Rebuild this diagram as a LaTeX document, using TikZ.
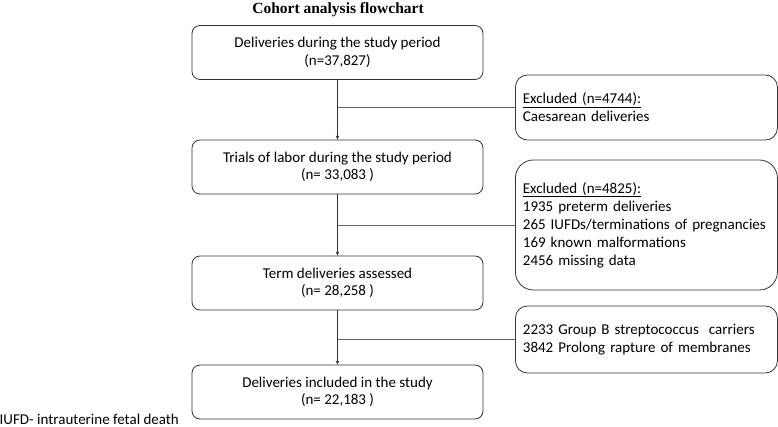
\documentclass[tikz,border=0pt]{standalone}
\usepackage{fontspec}
\setmainfont{Carlito}
\newfontfamily\titlefont{Liberation Serif}
\usetikzlibrary{arrows.meta}

\begin{document}
\begin{tikzpicture}[x=1pt, y=-1pt,
        stagebox/.style={draw=black!80, line width=0.8pt, rounded corners=8pt, minimum width=291pt, minimum height=54pt, align=center, font=\fontsize{15}{17.5}\selectfont},
        exclbox/.style={draw=black!80, line width=0.8pt, rounded corners=12pt, text width=247pt, align=left, inner xsep=7.5pt, font=\fontsize{15}{18}\selectfont},
        flow/.style={draw=black!80, line width=0.8pt, -{Stealth[length=4pt, width=3.5pt]}},
        side/.style={draw=black!60, line width=0.8pt}]
        \useasboundingbox (0,0) rectangle (778,427);

        \node[font=\titlefont\fontsize{15.5}{17}\selectfont\bfseries, anchor=base] (title) at (338,13.5) {Cohort analysis flowchart};

        \node[stagebox] (all) at (337.5,52.5) {Deliveries during the study period\\(n=37,827)};
        \node[stagebox] (labor) at (337.5,167) {Trials of labor during the study period\\(n= 33,083 )};
        \node[stagebox] (term) at (337.5,283) {Term deliveries assessed\\(n= 28,258 )};
        \node[stagebox] (incl) at (337.5,392) {Deliveries included in the study\\(n= 22,183 )};

        \node[exclbox, minimum height=65pt, anchor=west] (caes) at (515,107.5) {\underline{Excluded (n=4744):}\\Caesarean deliveries};
        \node[exclbox, minimum height=130pt, rounded corners=18pt, anchor=west] (preterm) at (515,225) {\underline{Excluded (n=4825):}\\1935 preterm deliveries\\265 IUFDs/terminations of pregnancies\\169 known malformations\\2456 missing data};
        \node[exclbox, minimum height=67pt, anchor=west] (gbs) at (515,339.5) {2233 Group B streptococcus\ \ carriers\\3842 Prolong rapture of membranes};

        \node[anchor=base west, inner sep=0pt, font=\fontsize{15}{16}\selectfont] (note) at (-0.5,424) {IUFD- intrauterine fetal death};

        \draw[flow] (all) -- (labor);
        \draw[flow] (labor) -- (term);
        \draw[flow] (term) -- (incl);
        \draw[side] (caes.west) -- (caes.west -| all.south);
        \draw[side] (preterm.west) -- (preterm.west -| all.south);
        \draw[side] (gbs.west) -- (gbs.west -| all.south);
\end{tikzpicture}
\end{document}
